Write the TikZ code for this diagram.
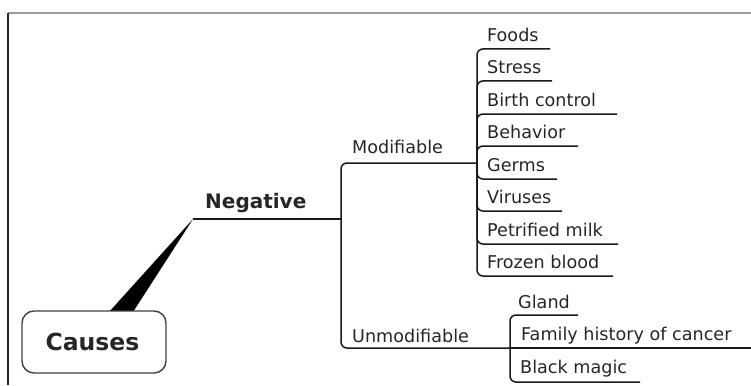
\documentclass[tikz,border=0pt]{standalone}
\usepackage{fontspec}
\setmainfont{DejaVu Sans}
\begin{document}
\begin{tikzpicture}[x=1pt,y=-1pt,
  branch/.style={draw=black!90, line width=1.5pt, rounded corners=6pt},
  leaf/.style={anchor=base west, inner sep=0pt, text=black!85,
    font=\fontsize{17.6}{21}\selectfont},
  topic/.style={anchor=base west, inner sep=0pt, text=black!85,
    font=\bfseries\fontsize{20}{24}\selectfont},
  rootbox/.style={draw=black!75, line width=1.4pt, rounded corners=12pt,
    fill=white, minimum width=144pt, minimum height=62pt, inner sep=0pt,
    text=black!85, font=\bfseries\fontsize{23.5}{28}\selectfont}]
\useasboundingbox (0,0) rectangle (751,385);
\fill[white] (0,0) rectangle (751,385);

% window frame
\draw[black!40, line width=1.2pt] (751,13) -- (8,13);
\draw[black!85, line width=1.6pt] (8,13) -- (8,385);

% central topic and its tapered link to the first branch
\coordinate (negstart) at (193,219);
\coordinate (negend) at (341,219);
\fill[black] (109,312) -- (133,312) -- (negstart) -- cycle;
\node[rootbox] (causes) at (94,342) {\hspace*{-3pt}Causes};

% first level
\node[topic] (negative) at (205,208) {Negative};
\draw[branch] (negstart) -- (negend);

% second level
\coordinate (modend) at (477,163);
\coordinate (unmodend) at (510,348);
\node[leaf] (modifiable) at (352,153) {Modifiable};
\node[leaf] (unmodifiable) at (352,342) {Unmodifiable};
\draw[branch] (negend) |- (modend);
\draw[branch] (negend) |- (unmodend);

% modifiable causes
\foreach \name/\txt/\y/\xe in {
    foods/Foods/49/550,
    stress/Stress/81/552,
    birth/Birth control/114/617,
    behavior/Behavior/146/578,
    germs/Germs/179/557,
    viruses/Viruses/211/562,
    milk/Petrified milk/244/618,
    blood/Frozen blood/276/613} {
  \node[leaf] (\name) at (487,\y-7.5) {\txt};
  \coordinate (\name-end) at (\xe,\y);
  \draw[branch] (modend) |- (\name-end);
}

% unmodifiable causes
\node[leaf] (gland) at (518,308) {Gland};
\node[leaf] (family) at (521,340) {Family history of cancer};
\node[leaf] (magic) at (520,373) {Black magic};
\coordinate (gland-end) at (578,315);
\coordinate (family-end) at (751,348);
\coordinate (magic-end) at (640,382);
\draw[branch] (unmodend) |- (gland-end);
\draw[branch] (unmodend) -- (family-end);
\draw[branch] (unmodend) |- (magic-end);
\end{tikzpicture}
\end{document}
